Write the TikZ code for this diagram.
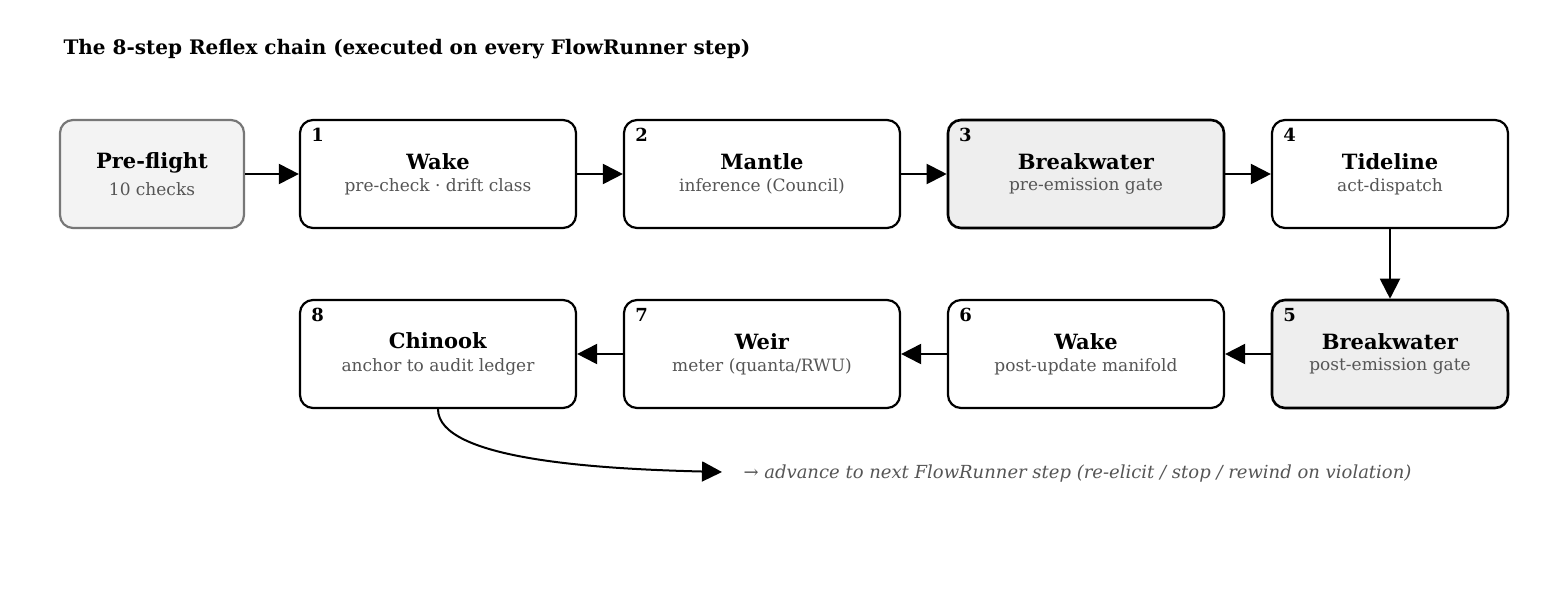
\documentclass[tikz,border=0pt]{standalone}
\usepackage{fontspec}
\setmainfont{DejaVu Serif}
\usetikzlibrary{arrows.meta,positioning}
\definecolor{subgray}{HTML}{555555}
\definecolor{gatefill}{HTML}{EEEEEE}
\definecolor{preline}{HTML}{777777}
\tikzset{
  stage/.style={draw,line width=2.2pt,rounded corners=13pt,minimum width=276pt,minimum height=108pt,fill=white},
  gate/.style={stage,fill=gatefill,line width=2.6pt},
  narrow/.style={minimum width=236pt},
  flow/.style={line width=2pt,-{Triangle[length=20pt,width=20pt]}},
}
\newcommand{\stagetext}[2]{\fontsize{21}{25}\selectfont\textbf{#1}\\[8pt]\fontsize{17}{20}\selectfont\color{subgray}#2}
\newcommand{\stagenum}[2]{\node[anchor=north west,font=\fontsize{18}{20}\selectfont\bfseries] at ([xshift=9pt,yshift=-6pt]#1.north west) {#2};}
\begin{document}
\begin{tikzpicture}[x=1pt,y=-1pt]
\useasboundingbox (0,0) rectangle (1560,600);
\node[anchor=west,font=\fontsize{20}{24}\selectfont\bfseries] (title) at (60,49) {The 8-step Reflex chain (executed on every FlowRunner step)};

% row one
\node[stage,minimum width=184pt,fill=gatefill!70,draw=preline,align=center] (pre) at (152,174) {\stagetext{Pre-flight}{10 checks}};
\node[stage,align=center] (s1) at (438,174) {\stagetext{Wake}{pre-check · drift class}};
\node[stage,align=center] (s2) at (762,174) {\stagetext{Mantle}{inference (Council)}};
\node[gate,align=center] (s3) at (1086,174) {\stagetext{Breakwater}{pre-emission gate}};
\node[stage,narrow,align=center] (s4) at (1390,174) {\stagetext{Tideline}{act-dispatch}};

% row two
\node[gate,narrow,align=center] (s5) at (1390,354) {\stagetext{Breakwater}{post-emission gate}};
\node[stage,align=center] (s6) at (1086,354) {\stagetext{Wake}{post-update manifold}};
\node[stage,align=center] (s7) at (762,354) {\stagetext{Weir}{meter (quanta/RWU)}};
\node[stage,align=center] (s8) at (438,354) {\stagetext{Chinook}{anchor to audit ledger}};

\stagenum{s1}{1}
\stagenum{s2}{2}
\stagenum{s3}{3}
\stagenum{s4}{4}
\stagenum{s5}{5}
\stagenum{s6}{6}
\stagenum{s7}{7}
\stagenum{s8}{8}

\draw[flow] (pre) -- (s1);
\draw[flow] (s1) -- (s2);
\draw[flow] (s2) -- (s3);
\draw[flow] (s3) -- (s4);
\draw[flow] (s4) -- (s5);
\draw[flow] (s5) -- (s6);
\draw[flow] (s6) -- (s7);
\draw[flow] (s7) -- (s8);

\coordinate (next) at (722,472);
\draw[flow] (s8.south) .. controls (438,460) and (600,469) .. (next);
\node[anchor=west,font=\fontsize{18}{22}\selectfont\itshape,text=subgray] (adv) at (740,474) {→ advance to next FlowRunner step (re-elicit / stop / rewind on violation)};
\end{tikzpicture}
\end{document}
